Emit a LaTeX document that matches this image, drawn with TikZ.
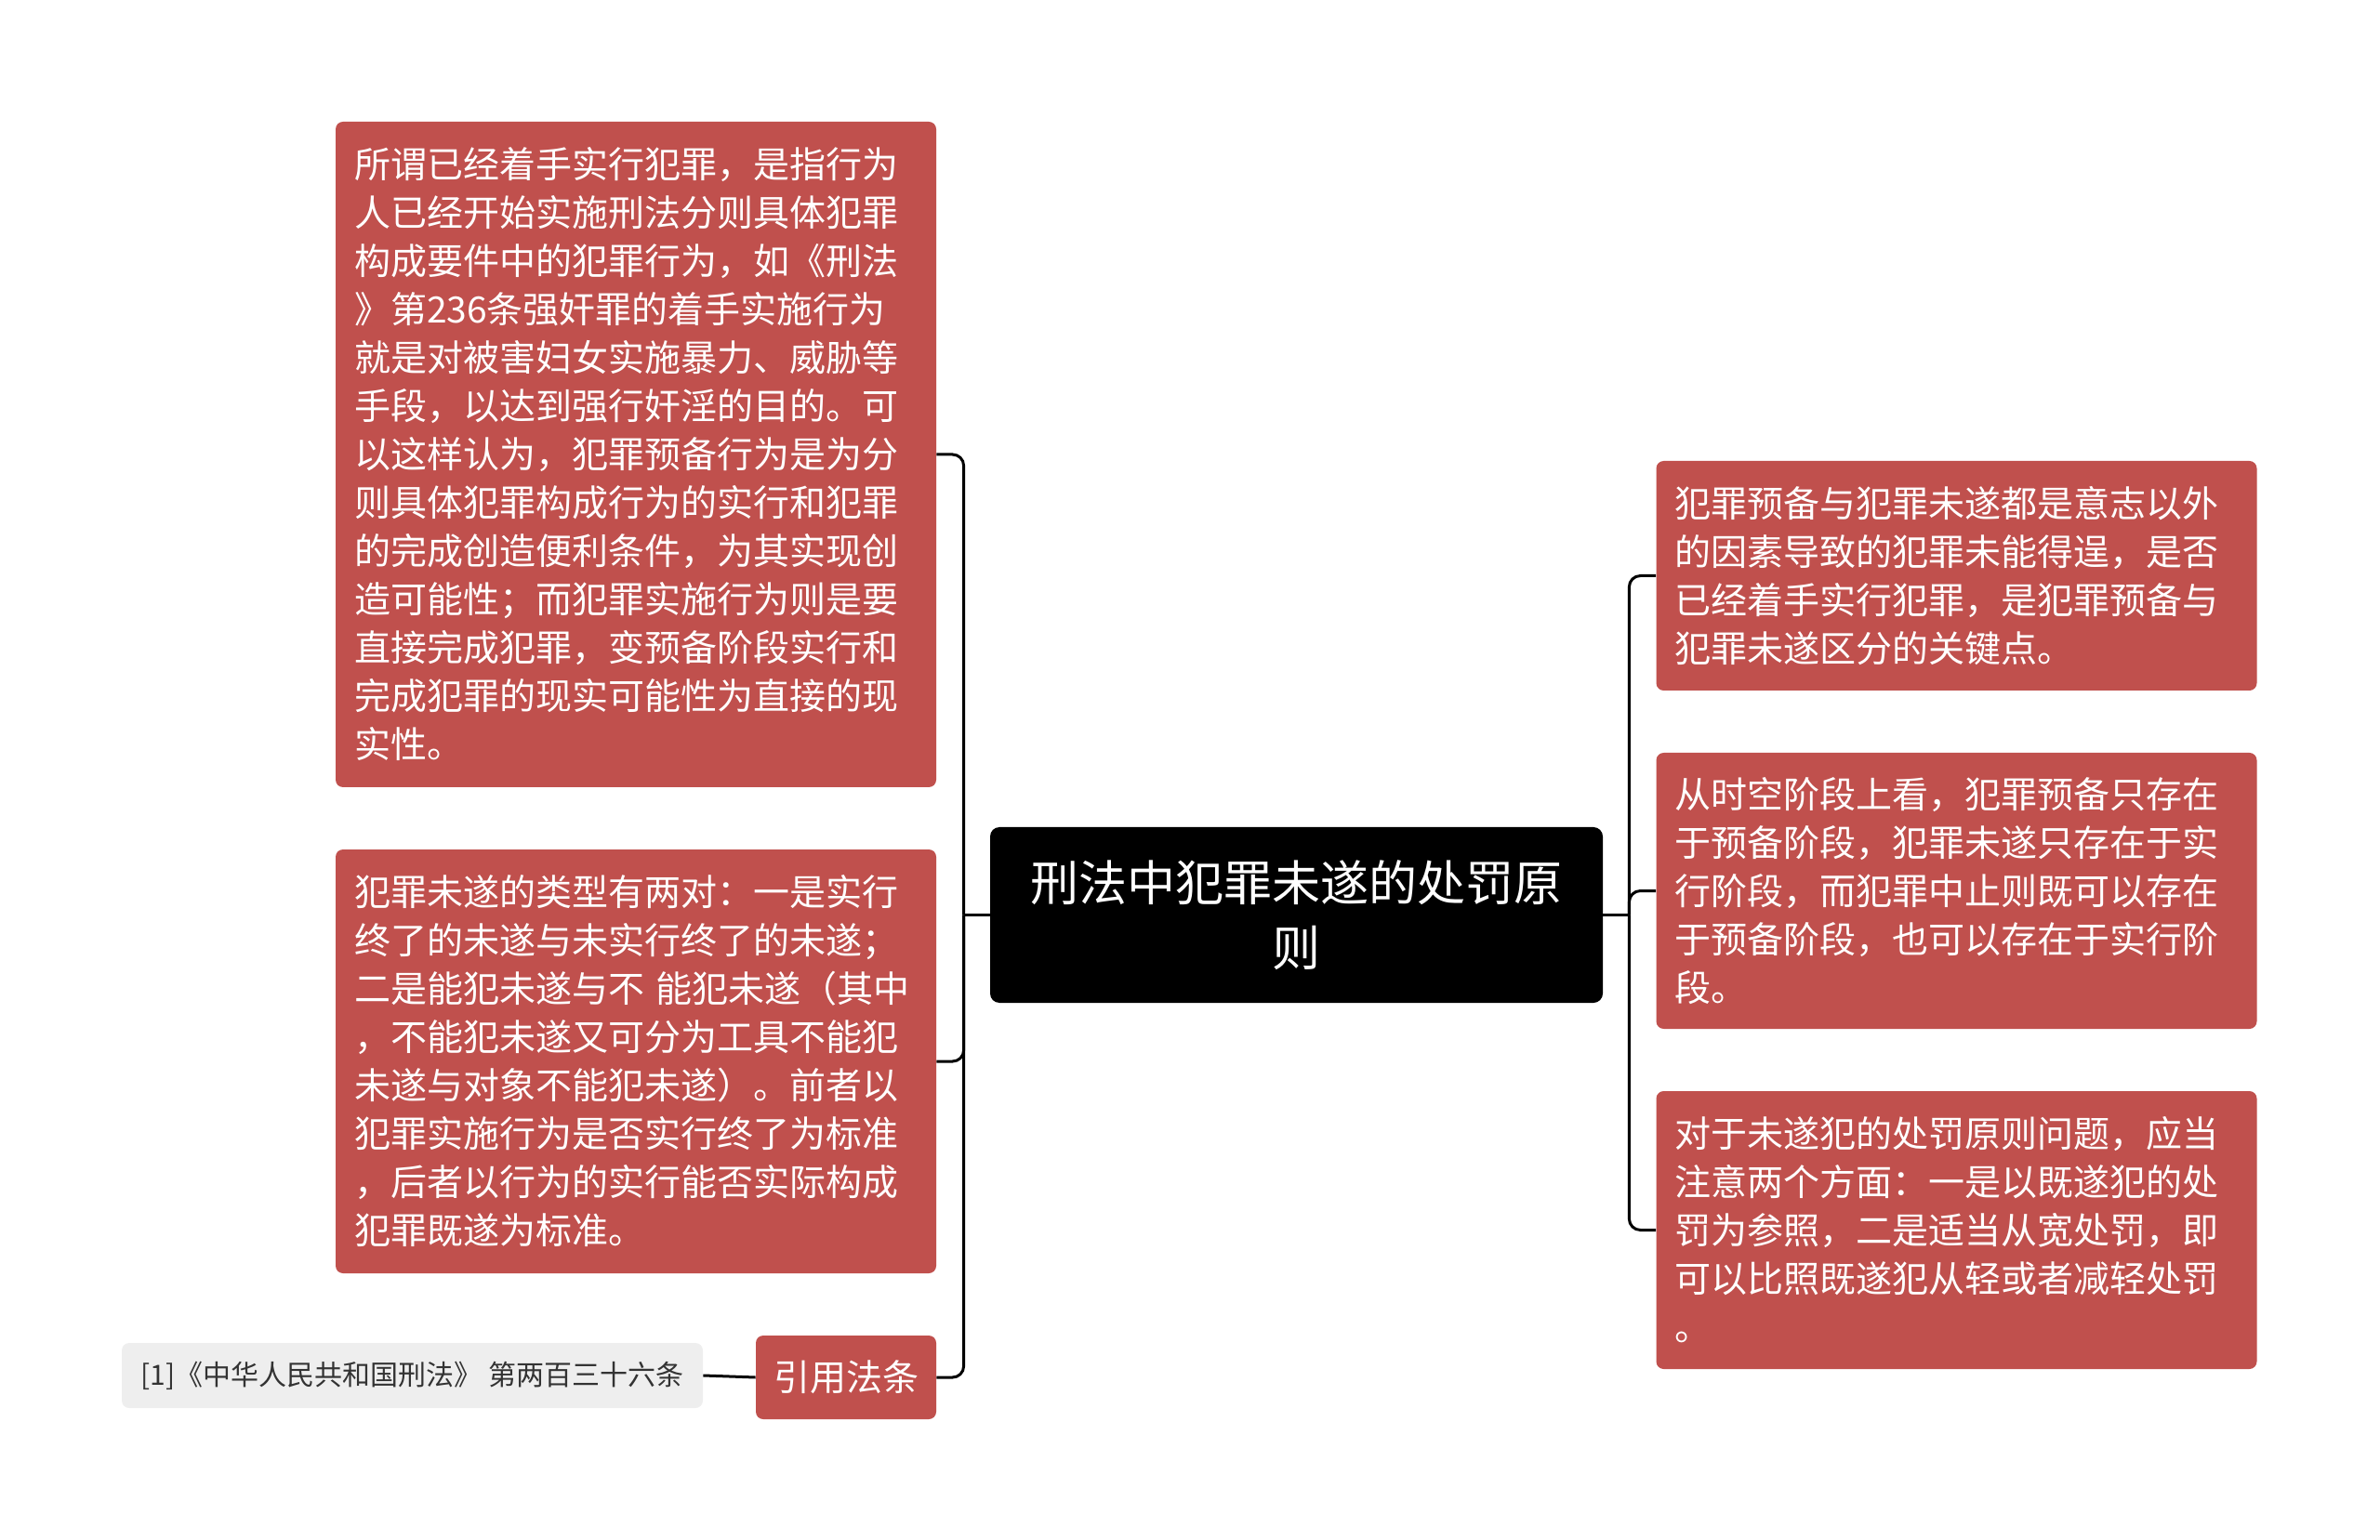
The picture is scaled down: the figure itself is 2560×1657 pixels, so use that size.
\documentclass[tikz,border=0pt]{standalone}
\usepackage{fontspec}
\setmainfont{Noto Sans CJK SC}
\usetikzlibrary{positioning}
\definecolor{nodered}{RGB}{192, 80, 77}
\definecolor{refgray}{RGB}{238, 238, 238}
\definecolor{reftext}{RGB}{51, 51, 51}

\begin{document}
\begin{tikzpicture}[x=0.5pt, y=-0.5pt,
  redbox/.style={fill=nodered, text=white, rounded corners=4pt, inner xsep=10pt, inner ysep=0pt,
    text width=303pt, align=left, font=\fontsize{19.5pt}{26pt}\selectfont},
  link/.style={line width=1.5pt, rounded corners=6pt}]
  \useasboundingbox (0, 0) rectangle (2560, 1657);

  % Root
  \node[fill=black, text=white, rounded corners=5pt, minimum width=329.5pt, minimum height=94.5pt,
    align=center, font=\fontsize{26pt}{35pt}\selectfont] (root) at (1394.5, 984.5)
    {刑法中犯罪未遂的处罚原\\则};

  % Left branches
  \node[redbox, minimum height=358pt] (stage) at (684, 489) {
    所谓已经着手实行犯罪，是指行为\\
    人已经开始实施刑法分则具体犯罪\\
    构成要件中的犯罪行为，如《刑法\\
    》第236条强奸罪的着手实施行为\\
    就是对被害妇女实施暴力、威胁等\\
    手段，以达到强行奸淫的目的。可\\
    以这样认为，犯罪预备行为是为分\\
    则具体犯罪构成行为的实行和犯罪\\
    的完成创造便利条件，为其实现创\\
    造可能性；而犯罪实施行为则是要\\
    直接完成犯罪，变预备阶段实行和\\
    完成犯罪的现实可能性为直接的现\\
    实性。};
  \node[redbox, minimum height=228pt] (types) at (684, 1142) {
    犯罪未遂的类型有两对：一是实行\\
    终了的未遂与未实行终了的未遂；\\
    二是能犯未遂与不 能犯未遂（其中\\
    ，不能犯未遂又可分为工具不能犯\\
    未遂与对象不能犯未遂）。前者以\\
    犯罪实施行为是否实行终了为标准\\
    ，后者以行为的实行能否实际构成\\
    犯罪既遂为标准。};
  \node[fill=nodered, text=white, rounded corners=4pt, minimum width=97pt, minimum height=45pt,
    font=\fontsize{19.5pt}{26pt}\selectfont] (cite) at (910, 1482) {引用法条};
  \node[fill=refgray, text=reftext, rounded corners=4pt, minimum width=312.5pt, minimum height=35pt,
    font=\fontsize{15pt}{20pt}\selectfont] (law) at (443.5, 1480)
    {[1]《中华人民共和国刑法》 第两百三十六条};

  % Right branches
  \node[redbox, minimum height=123.5pt] (key) at (2104.5, 619.5) {
    犯罪预备与犯罪未遂都是意志以外\\
    的因素导致的犯罪未能得逞，是否\\
    已经着手实行犯罪，是犯罪预备与\\
    犯罪未遂区分的关键点。};
  \node[redbox, minimum height=148.5pt] (phase) at (2104.5, 958.5) {
    从时空阶段上看，犯罪预备只存在\\
    于预备阶段，犯罪未遂只存在于实\\
    行阶段，而犯罪中止则既可以存在\\
    于预备阶段，也可以存在于实行阶\\
    段。};
  \node[redbox, minimum height=149.5pt] (rule) at (2104.5, 1323.5) {
    对于未遂犯的处罚原则问题，应当\\
    注意两个方面：一是以既遂犯的处\\
    罚为参照，二是适当从宽处罚，即\\
    可以比照既遂犯从轻或者减轻处罚\\
    。};

  % Connectors
  \coordinate[left=14pt of root.west] (lspine);
  \coordinate[right=14pt of root.east] (rspine);
  \draw[link] (root.west) -- (lspine);
  \draw[link] (lspine) |- (stage.east);
  \draw[link] (lspine) |- (types.east);
  \draw[link] (lspine) |- (cite.east);
  \draw[link] (cite.west) -- (law.east);
  \draw[link] (root.east) -- (rspine);
  \draw[link] (rspine) |- (key.west);
  \draw[link] (rspine) |- (phase.west);
  \draw[link] (rspine) |- (rule.west);
\end{tikzpicture}
\end{document}
